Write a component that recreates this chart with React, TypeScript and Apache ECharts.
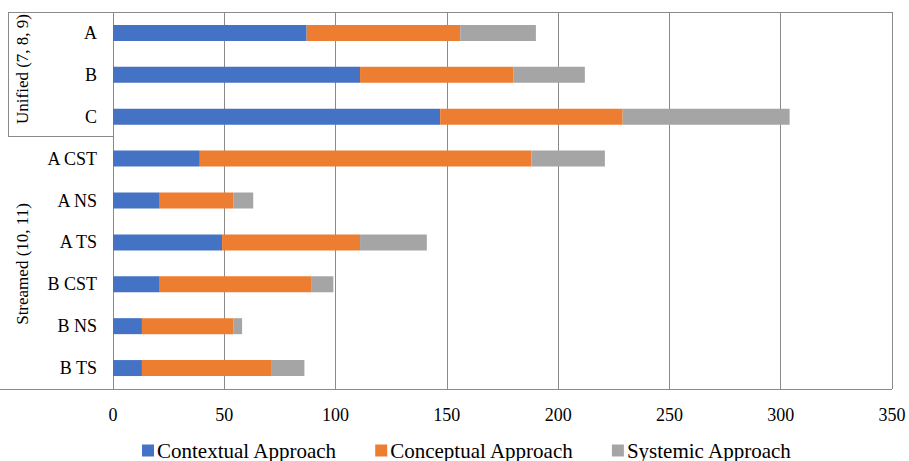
import React, { useEffect, useRef } from "react";
import * as echarts from "echarts";

// Schools / streams listed top to bottom
const categories = ["A", "B", "C", "A CST", "A NS", "A TS", "B CST", "B NS", "B TS"];

// Number of items coded for each approach
const contextual = [87, 111, 147, 39, 21, 49, 21, 13, 13];
const conceptual = [69, 69, 82, 149, 33, 62, 68, 41, 58];
const systemic = [34, 32, 75, 33, 9, 30, 10, 4, 15];

const seriesNames = ["Contextual Approach", "Conceptual Approach", "Systemic Approach"];
const seriesColors = ["#4472C4", "#ED7D31", "#A5A5A5"];

const groupLabels = ["Unified (7, 8, 9)", "Streamed (10, 11)"];

const xTicks = { min: 0, max: 350, interval: 50 };

const FONT = '"Liberation Serif", "Times New Roman", serif';
const LINE = "#8a8a8a";

export default function App() {
  const ref = useRef<HTMLDivElement>(null);

  useEffect(() => {
    if (!ref.current) return;
    const chart = echarts.init(ref.current, null, { renderer: "svg" });
    const values = [contextual, conceptual, systemic];

    const groupText = (text: string, x: number, y: number) => ({
      type: "text",
      x,
      y,
      rotation: Math.PI / 2,
      style: {
        text,
        fontFamily: FONT,
        fontSize: 17,
        fill: "#000",
        textAlign: "center",
        textVerticalAlign: "middle",
      },
    });

    chart.setOption({
      animation: false,
      backgroundColor: "#ffffff",
      textStyle: { fontFamily: FONT },
      grid: { left: 113, right: 17, top: 12, bottom: 72, containLabel: false },
      legend: {
        data: seriesNames,
        left: 142,
        top: 440,
        padding: 0,
        icon: "rect",
        itemWidth: 12,
        itemHeight: 12,
        itemGap: 38,
        textStyle: { fontFamily: FONT, fontSize: 21, color: "#000", padding: [0, 0, 0, -2] },
      },
      xAxis: {
        type: "value",
        min: xTicks.min,
        max: xTicks.max,
        interval: xTicks.interval,
        axisLine: { show: false },
        axisTick: { show: false },
        axisLabel: { fontFamily: FONT, fontSize: 18, color: "#000", margin: 17 },
        splitLine: { show: true, lineStyle: { color: LINE, width: 1 } },
      },
      yAxis: {
        type: "category",
        data: categories,
        inverse: true,
        axisLine: { show: false },
        axisTick: { show: false },
        axisLabel: { fontFamily: FONT, fontSize: 18, color: "#000", margin: 16 },
      },
      series: seriesNames.map((name, i) => ({
        name,
        type: "bar",
        stack: "total",
        barWidth: 16,
        itemStyle: { color: seriesColors[i] },
        data: values[i],
      })),
      graphic: [
        // frame lines around the plot and the group label column
        { type: "line", shape: { x1: 8, y1: 12.5, x2: 892, y2: 12.5 }, style: { stroke: LINE, lineWidth: 1 } },
        { type: "line", shape: { x1: 0, y1: 389.5, x2: 892, y2: 389.5 }, style: { stroke: LINE, lineWidth: 1 } },
        { type: "line", shape: { x1: 8, y1: 136.5, x2: 113, y2: 136.5 }, style: { stroke: LINE, lineWidth: 1 } },
        { type: "line", shape: { x1: 8.5, y1: 12, x2: 8.5, y2: 137 }, style: { stroke: LINE, lineWidth: 1 } },
        groupText(groupLabels[0], 22, 69),
        groupText(groupLabels[1], 22, 264),
      ],
    });

    return () => chart.dispose();
  }, []);

  return (
    <div
      ref={ref}
      style={{ position: "fixed", left: 0, top: 0, width: 909, height: 461, background: "#fff" }}
    />
  );
}
